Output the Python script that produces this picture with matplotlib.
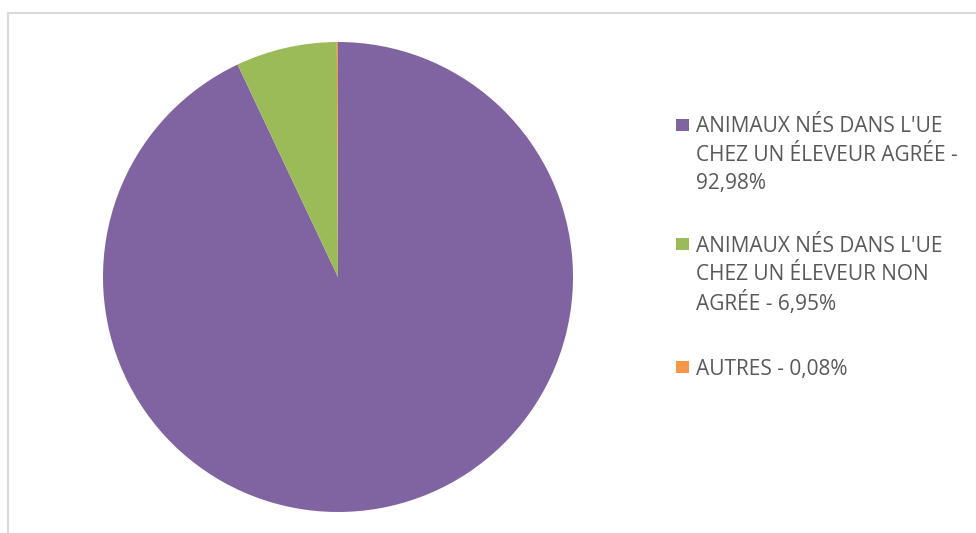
import matplotlib
matplotlib.use("Agg")
import matplotlib.pyplot as plt
from matplotlib.patches import Rectangle
from matplotlib.lines import Line2D

categories = [
    ["ANIMAUX NÉS DANS L'UE", "CHEZ UN ÉLEVEUR AGRÉE -"],
    ["ANIMAUX NÉS DANS L'UE", "CHEZ UN ÉLEVEUR NON", "AGRÉE -"],
    ["AUTRES -"],
]
values = [92.98, 6.95, 0.08]
value_labels = ["92,98%", "6,95%", "0,08%"]
colors = ["#8064A2", "#9BBB59", "#F79646"]

W, H = 976, 533
fig = plt.figure(figsize=(W / 100, H / 100), dpi=100)
fig.patch.set_facecolor("white")

# chart border (partially visible)
fig.add_artist(Line2D([8 / W, 8 / W], [0, 1 - 12.5 / H], transform=fig.transFigure,
                      color="#d9d9d9", lw=1.5))
fig.add_artist(Line2D([8 / W, 1.0], [1 - 12.5 / H, 1 - 12.5 / H], transform=fig.transFigure,
                      color="#d9d9d9", lw=1.5))

ax = fig.add_axes([103 / W, 1 - 512 / H, 470 / W, 470 / H])
ax.pie(values, colors=colors, startangle=90, counterclock=False,
       wedgeprops=dict(linewidth=0))
ax.set_aspect("equal")
ax.set_xlim(-1, 1)
ax.set_ylim(-1, 1)
ax.axis("off")

# legend built manually
font = dict(family=["Open Sans", "DejaVu Sans"], size=15, color="#595959")
entry_tops = [124.5, 243.5, 366.5]
line_h = 28.5
for i, (lines, lab, col) in enumerate(zip(categories, value_labels, colors)):
    all_lines = list(lines)
    if len(all_lines[-1]) <= 10:
        all_lines[-1] = all_lines[-1] + " " + lab
    else:
        all_lines.append(lab)
    y0 = entry_tops[i]
    fig.add_artist(Rectangle((676 / W, 1 - (y0 + 6.5) / H), 12.5 / W, 12.5 / H,
                             transform=fig.transFigure, facecolor=col, edgecolor="none"))
    for j, t in enumerate(all_lines):
        fig.text(696 / W, 1 - (y0 + j * line_h) / H, t, ha="left", va="center_baseline",
                 **font)

fig.savefig("out.png", dpi=100, facecolor="white")
